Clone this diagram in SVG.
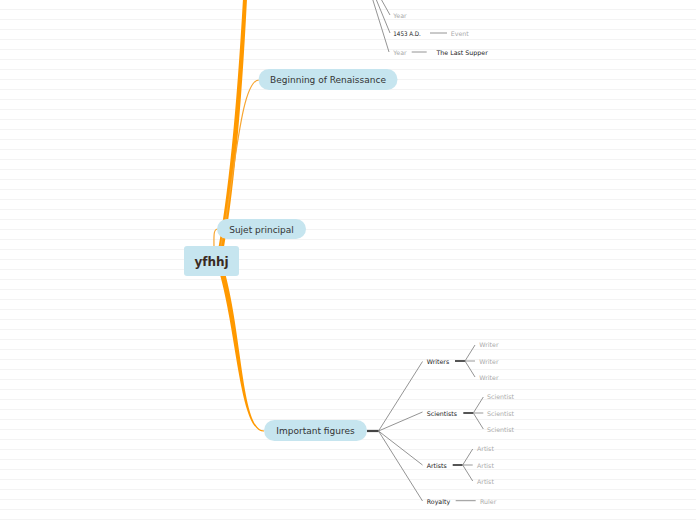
<svg xmlns="http://www.w3.org/2000/svg" width="696" height="520" viewBox="0 0 696 520">
<defs>
<pattern id="bg" width="696" height="10" patternUnits="userSpaceOnUse">
<line x1="0" y1="9.5" x2="696" y2="9.5" stroke="#f3f3f3" stroke-width="1"/>
</pattern>
<style>
text{font-family:"DejaVu Sans","Liberation Sans",sans-serif;dominant-baseline:central}
.main{fill:#c6e5ef}
.lbl{font-size:9px;fill:#333}
.sub{font-size:6.3px;fill:#222}
.leaf{font-size:6.3px;fill:#aaa}
.thin{fill:none;stroke:#f7a530;stroke-width:1.2}
.g{fill:none;stroke:#888;stroke-width:0.9}
.stub{fill:none;stroke:#555;stroke-width:2}
.mid{fill:none;stroke:#bbb;stroke-width:1.5}
</style>
</defs>
<rect width="696" height="520" fill="#fff"/>
<rect width="696" height="520" fill="url(#bg)"/>
<g id="connectors">
<path d="M216.5 258 Q233.5 170 243.2 -5 L247.2 -5 Q238.5 170 222 258 Z" fill="#ff9900"/>
<path d="M217.5 266 C237.5 331 239 431.6 264 431.6 L264 430.4 C241 430.4 242.5 329 222.5 264 Z" fill="#ff9900"/>
<path class="thin" d="M220 250 C235 180 240 80 259 80"/>
<path class="thin" d="M214 250 C214 236 213 229 218 229"/>
<path class="g" d="M362 -35 L390 15 M362 -35 L390 33 M362 -35 L389 52"/>
<path class="g" d="M430 33 H447 M411.7 52 H426.7"/>
<path d="M367 431 H379" fill="none" stroke="#444" stroke-width="2.2"/>
<path class="g" d="M378.5 431 L422.5 361.5 M378.5 431 L422.5 412 M378.5 431 L422.5 465 M378.5 431 L422.5 501"/>
<path class="stub" d="M455 361 H465"/>
<path class="mid" d="M465 361 H475"/>
<path class="g" d="M465 361 L475 345 M465 361 L475 377"/>
<path class="stub" d="M463.3 413 H473.3"/>
<path class="mid" d="M473.3 413 H483.3"/>
<path class="g" d="M473.3 413 L483.3 397 M473.3 413 L483.3 429"/>
<path class="stub" d="M452.7 465 H462.7"/>
<path class="mid" d="M462.7 465 H472.7"/>
<path class="g" d="M462.7 465 L472.7 449 M462.7 465 L472.7 481"/>
<path class="g" d="M455.7 500.7 H475.7"/>
</g>
<g id="center">
<rect class="main" x="184" y="246" width="55" height="30" rx="3"/>
<text x="211.5" y="261.8" text-anchor="middle" font-size="12" font-weight="bold" fill="#3a2b1f">yfhhj</text>
</g>
<g id="sujet">
<rect class="main" x="217" y="219" width="89" height="20" rx="10"/>
<text class="lbl" x="261.5" y="229.8" text-anchor="middle">Sujet principal</text>
</g>
<g id="beginning">
<rect class="main" x="258.5" y="69" width="139" height="21" rx="10.5"/>
<text class="lbl" x="328" y="80.3" text-anchor="middle">Beginning of Renaissance</text>
</g>
<g id="important">
<rect class="main" x="264" y="420" width="103" height="21" rx="10.5"/>
<text class="lbl" x="315.5" y="431.3" text-anchor="middle">Important figures</text>
</g>
<g id="year1"><text class="leaf" x="393.3" y="15.5">Year</text></g>
<g id="date1453"><text class="sub" x="393.3" y="33.5" textLength="27.6" lengthAdjust="spacingAndGlyphs">1453 A.D.</text></g>
<g id="event"><text class="leaf" x="450.7" y="33.5">Event</text></g>
<g id="year2"><text class="leaf" x="393.3" y="52.5">Year</text></g>
<g id="lastsupper"><text class="sub" x="436.5" y="52.5" fill="#111">The Last Supper</text></g>
<g id="writers"><text class="sub" x="426.7" y="361.8">Writers</text></g>
<g id="writer1"><text class="leaf" x="479.3" y="344.8">Writer</text></g>
<g id="writer2"><text class="leaf" x="479.3" y="361.8">Writer</text></g>
<g id="writer3"><text class="leaf" x="479.3" y="377.8">Writer</text></g>
<g id="scientists"><text class="sub" x="426.7" y="413.5">Scientists</text></g>
<g id="scientist1"><text class="leaf" x="487" y="396.8">Scientist</text></g>
<g id="scientist2"><text class="leaf" x="487" y="413.5">Scientist</text></g>
<g id="scientist3"><text class="leaf" x="487" y="429.8">Scientist</text></g>
<g id="artists"><text class="sub" x="426.7" y="465.5">Artists</text></g>
<g id="artist1"><text class="leaf" x="477" y="448.8">Artist</text></g>
<g id="artist2"><text class="leaf" x="477" y="465.8">Artist</text></g>
<g id="artist3"><text class="leaf" x="477" y="481.8">Artist</text></g>
<g id="royalty"><text class="sub" x="426.7" y="501.2">Royalty</text></g>
<g id="ruler"><text class="leaf" x="480" y="501.2">Ruler</text></g>
</svg>
